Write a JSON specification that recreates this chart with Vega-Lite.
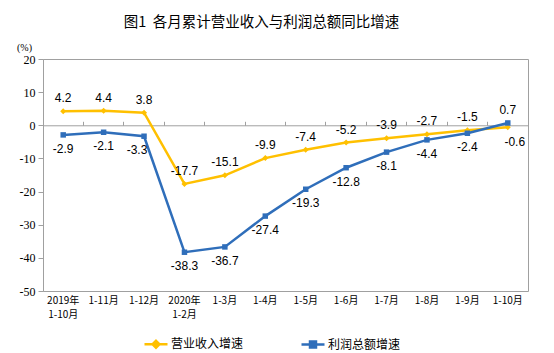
{
  "$schema": "https://vega.github.io/schema/vega-lite/v6.json",
  "width": 485,
  "height": 232,
  "autosize": {"type": "none"},
  "padding": {"left": 43, "top": 59, "right": 26, "bottom": 62},
  "background": "white",
  "title": {
    "text": "图1\u00a0\u00a0各月累计营业收入与利润总额同比增速",
    "font": "Noto Sans CJK SC",
    "fontSize": 14.5,
    "fontWeight": "normal",
    "color": "#000000",
    "anchor": "middle",
    "frame": "group",
    "dx": -24,
    "offset": 12
  },
  "config": {
    "view": {"stroke": "#A0A0A0", "strokeWidth": 1},
    "axis": {"grid": false}
  },
  "data": {
    "values": [
      {"month": "2019年|1-10月", "series": "营业收入增速", "value": 4.2},
      {"month": "1-11月", "series": "营业收入增速", "value": 4.4},
      {"month": "1-12月", "series": "营业收入增速", "value": 3.8},
      {"month": "2020年|1-2月", "series": "营业收入增速", "value": -17.7},
      {"month": "1-3月", "series": "营业收入增速", "value": -15.1},
      {"month": "1-4月", "series": "营业收入增速", "value": -9.9},
      {"month": "1-5月", "series": "营业收入增速", "value": -7.4},
      {"month": "1-6月", "series": "营业收入增速", "value": -5.2},
      {"month": "1-7月", "series": "营业收入增速", "value": -3.9},
      {"month": "1-8月", "series": "营业收入增速", "value": -2.7},
      {"month": "1-9月", "series": "营业收入增速", "value": -1.5},
      {"month": "1-10月", "series": "营业收入增速", "value": -0.6},
      {"month": "2019年|1-10月", "series": "利润总额增速", "value": -2.9},
      {"month": "1-11月", "series": "利润总额增速", "value": -2.1},
      {"month": "1-12月", "series": "利润总额增速", "value": -3.3},
      {"month": "2020年|1-2月", "series": "利润总额增速", "value": -38.3},
      {"month": "1-3月", "series": "利润总额增速", "value": -36.7},
      {"month": "1-4月", "series": "利润总额增速", "value": -27.4},
      {"month": "1-5月", "series": "利润总额增速", "value": -19.3},
      {"month": "1-6月", "series": "利润总额增速", "value": -12.8},
      {"month": "1-7月", "series": "利润总额增速", "value": -8.1},
      {"month": "1-8月", "series": "利润总额增速", "value": -4.4},
      {"month": "1-9月", "series": "利润总额增速", "value": -2.4},
      {"month": "1-10月", "series": "利润总额增速", "value": 0.7}
    ]
  },
  "encoding": {
    "y": {
      "field": "value",
      "type": "quantitative",
      "scale": {"domain": [-50, 20], "nice": false, "zero": false},
      "axis": {
        "values": [-50, -40, -30, -20, -10, 0, 10, 20],
        "labelExpr": "'' + datum.value",
        "title": "(%)",
        "titleAngle": 0,
        "titleX": -19,
        "titleY": -12,
        "titleAlign": "center",
        "titleBaseline": "middle",
        "titleFont": "Liberation Serif",
        "titleFontSize": 10,
        "titleFontWeight": "normal",
        "titleColor": "#000000",
        "domainColor": "#A0A0A0",
        "tickColor": "#A0A0A0",
        "tickSize": 5,
        "labelPadding": 3,
        "labelFont": "Liberation Serif",
        "labelFontSize": 12,
        "labelColor": "#000000"
      }
    }
  },
  "layer": [
    {
      "mark": {"type": "line", "strokeWidth": 2.5},
      "encoding": {
        "x": {
          "field": "month",
          "type": "nominal",
          "sort": null,
          "scale": {"type": "band", "paddingInner": 0, "paddingOuter": 0},
          "axis": {
            "title": null,
            "orient": "bottom",
            "domain": false,
            "ticks": false,
            "labelAngle": 0,
            "labelPadding": 4,
            "labelFont": "Noto Sans CJK SC",
            "labelFontSize": 10,
            "labelColor": "#000000",
            "labelLineHeight": 14,
            "labelExpr": "split(datum.label, '|')"
          }
        },
        "color": {
          "field": "series",
          "type": "nominal",
          "sort": ["营业收入增速", "利润总额增速"],
          "scale": {"domain": ["营业收入增速", "利润总额增速"], "range": ["#FFC000", "#2F6EBA"]},
          "legend": {
            "title": null,
            "orient": "none",
            "legendX": 100,
            "legendY": 272,
            "direction": "horizontal",
            "columnPadding": 52,
            "symbolSize": 529,
            "symbolStrokeWidth": 2.5,
            "labelOffset": 2,
            "labelFont": "Noto Sans CJK SC",
            "labelFontSize": 12,
            "labelColor": "#000000",
            "encode": {
              "symbols": {
                "update": {
                  "shape": {"signal": "datum.value === '营业收入增速' ? 'M-1,0L1,0M0,-0.3L0.3,0L0,0.3L-0.3,0Z' : 'M-1,0L1,0M-0.26,-0.26L0.26,-0.26L0.26,0.26L-0.26,0.26Z'"},
                  "fill": {"scale": "color", "field": "value"},
                  "stroke": {"scale": "color", "field": "value"},
                  "strokeWidth": {"value": 2.5}
                }
              }
            }
          }
        }
      }
    },
    {
      "transform": [{"filter": "datum.series === '营业收入增速'"}],
      "mark": {"type": "point", "shape": "diamond", "filled": true, "size": 36, "opacity": 1},
      "encoding": {
        "x": {
          "field": "month",
          "type": "nominal",
          "sort": null,
          "scale": {"type": "band", "paddingInner": 0, "paddingOuter": 0},
          "axis": {
            "title": null,
            "orient": "bottom",
            "offset": -165.71,
            "labels": false,
            "bandPosition": 0,
            "tickSize": -4,
            "tickColor": "#A0A0A0",
            "domainColor": "#A0A0A0"
          }
        },
        "color": {"field": "series", "type": "nominal"}
      }
    },
    {
      "transform": [{"filter": "datum.series === '利润总额增速'"}],
      "mark": {"type": "point", "shape": "square", "filled": true, "size": 30, "opacity": 1},
      "encoding": {
        "x": {"field": "month", "type": "nominal", "sort": null, "scale": {"type": "band", "paddingInner": 0, "paddingOuter": 0}, "axis": null},
        "color": {"field": "series", "type": "nominal"}
      }
    },
    {
      "transform": [{"filter": "(datum.series === '营业收入增速' && datum.month !== '1-10月') || (datum.series === '利润总额增速' && datum.month === '1-10月')"}],
      "mark": {"type": "text", "dy": -13, "font": "Liberation Sans", "fontSize": 12, "baseline": "middle"},
      "encoding": {
        "x": {"field": "month", "type": "nominal", "sort": null, "scale": {"type": "band", "paddingInner": 0, "paddingOuter": 0}, "axis": null},
        "text": {"field": "value", "type": "nominal"},
        "color": {"value": "#000000"}
      }
    },
    {
      "transform": [{"filter": "datum.series === '利润总额增速' && datum.month !== '1-10月' && datum.month !== '1-12月'"}],
      "mark": {"type": "text", "dy": 14, "font": "Liberation Sans", "fontSize": 12, "baseline": "middle"},
      "encoding": {
        "x": {"field": "month", "type": "nominal", "sort": null, "scale": {"type": "band", "paddingInner": 0, "paddingOuter": 0}, "axis": null},
        "text": {"field": "value", "type": "nominal"},
        "color": {"value": "#000000"}
      }
    },
    {
      "transform": [{"filter": "datum.series === '利润总额增速' && datum.month === '1-12月'"}],
      "mark": {"type": "text", "dy": 14, "dx": -7, "font": "Liberation Sans", "fontSize": 12, "baseline": "middle"},
      "encoding": {
        "x": {"field": "month", "type": "nominal", "sort": null, "scale": {"type": "band", "paddingInner": 0, "paddingOuter": 0}, "axis": null},
        "text": {"field": "value", "type": "nominal"},
        "color": {"value": "#000000"}
      }
    },
    {
      "transform": [{"filter": "datum.series === '营业收入增速' && datum.month === '1-10月'"}],
      "mark": {"type": "text", "dy": 15, "dx": 7, "font": "Liberation Sans", "fontSize": 12, "baseline": "middle"},
      "encoding": {
        "x": {"field": "month", "type": "nominal", "sort": null, "scale": {"type": "band", "paddingInner": 0, "paddingOuter": 0}, "axis": null},
        "text": {"field": "value", "type": "nominal"},
        "color": {"value": "#000000"}
      }
    }
  ],
  "resolve": {"axis": {"x": "independent"}}
}
